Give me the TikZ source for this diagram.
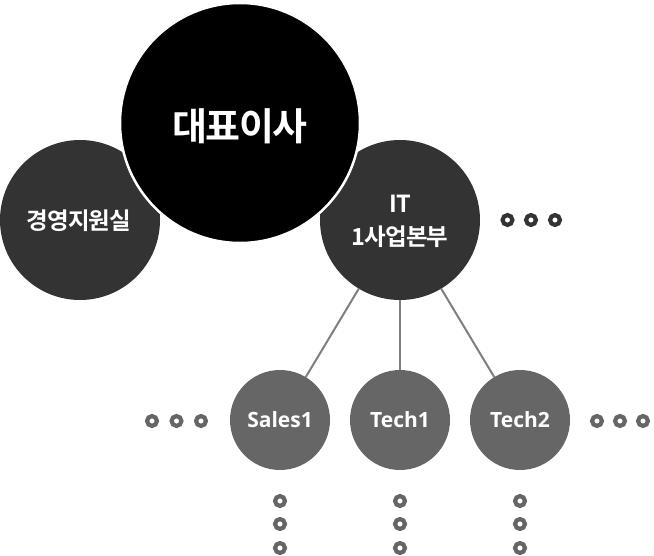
\documentclass[tikz,border=0pt]{standalone}
\usepackage{fontspec}
\newfontfamily\kr{Noto Sans CJK KR Bold}[LetterSpace=-4]
\newfontfamily\os{Open Sans}
\definecolor{dk}{HTML}{333333}
\definecolor{md}{HTML}{666666}
\definecolor{ln}{HTML}{7F7F7F}
\begin{document}
\begin{tikzpicture}[x=1pt,y=-1pt,
  orgc/.style={circle,inner sep=0pt,outer sep=0pt,text=white,align=center},
  ostext/.style={font=\os\bfseries\fontsize{21}{24}\selectfont},
  dotc/.style={circle,draw=#1,line width=4.2pt,minimum size=9.8pt,inner sep=0pt},
  link/.style={draw=ln,line width=2pt}]
\useasboundingbox[fill=white] (0,0) rectangle (654,556);
% side circles
\node[orgc,fill=dk,minimum size=160pt] (sup) at (80,220) {};
\node[orgc,fill=dk,minimum size=160pt] (it) at (400,220) {};
% CEO
\node[orgc,fill=black,draw=white,line width=2.5pt,minimum size=240pt] (ceo) at (240,123) {};
\node[text=white,font=\kr\fontsize{38}{42}\selectfont] (ceot) at (240,126) {대표이사};
\node[text=white,font=\kr\fontsize{23.5}{27}\selectfont] (supt) at (79,221) {경영지원실};
\node[text=white,align=center,font=\kr\fontsize{23.5}{33}\selectfont] (itt) at (400,221) {IT\\1사업본부};
% teams
\node[orgc,fill=md,minimum size=100pt,ostext] (s1) at (280,420) {Sales1};
\node[orgc,fill=md,minimum size=100pt,ostext] (t1) at (400,420) {Tech1};
\node[orgc,fill=md,minimum size=100pt,ostext] (t2) at (520,420) {Tech2};
% connectors
\draw[link] (it) -- (s1);
\draw[link] (it) -- (t1);
\draw[link] (it) -- (t2);
% dots
\foreach \x [count=\i] in {507.5,531,555}
  \node[dotc=dk] (r\i) at (\x,220) {};
\foreach \x [count=\i] in {152,176.5,201}
  \node[dotc=md] (l\i) at (\x,421) {};
\foreach \x [count=\i] in {597,620,643}
  \node[dotc=md] (rr\i) at (\x,421) {};
\foreach \x/\n in {280/a,400/b,520/c}
  \foreach \y [count=\i] in {501,524,548}
    \node[dotc=md] (b\n\i) at (\x,\y) {};
\end{tikzpicture}
\end{document}
